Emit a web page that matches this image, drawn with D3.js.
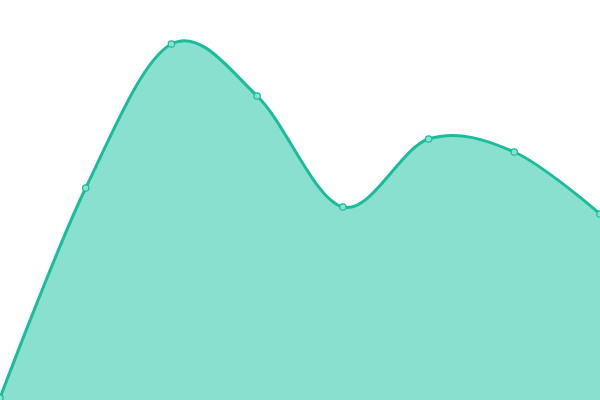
<!DOCTYPE html>
<html>
<head>
<meta charset="utf-8">
<script src="https://cdn.jsdelivr.net/npm/d3@7"></script>
<style>
  html, body { margin: 0; padding: 0; background: #fff; }
  svg { display: block; }
</style>
</head>
<body>
<svg id="chart" width="600" height="400"></svg>
<script>
var labels = ["A", "B", "C", "D", "E", "F", "G", "H"];
var values = [0.5, 53, 89, 76, 48.25, 65.25, 62, 46.5];

var WID = 600, HGT = 400;
var svg = d3.select("#chart");

var x = d3.scalePoint().domain(labels).range([0, WID]);
var y = d3.scaleLinear().domain([0, 100]).range([HGT, 0]);

var curve = d3.curveCardinal.tension(0);

var area = d3.area()
  .x(function (d, i) { return x(labels[i]); })
  .y0(y(0))
  .y1(function (d) { return y(d); })
  .curve(curve);

var line = d3.line()
  .x(function (d, i) { return x(labels[i]); })
  .y(function (d) { return y(d); })
  .curve(curve);

svg.append("path")
  .datum(values)
  .attr("fill", "#89e0cf")
  .attr("d", area);

svg.append("path")
  .datum(values)
  .attr("fill", "none")
  .attr("stroke", "#1abc9c")
  .attr("stroke-width", 3)
  .attr("d", line);

svg.selectAll(".dot")
  .data(values)
  .enter().append("circle")
    .attr("class", "dot")
    .attr("cx", function (d, i) { return x(labels[i]); })
    .attr("cy", function (d) { return y(d); })
    .attr("r", 3.2)
    .attr("fill", "#8ce0d0")
    .attr("stroke", "#1abc9c")
    .attr("stroke-width", 1.2);
</script>
</body>
</html>
